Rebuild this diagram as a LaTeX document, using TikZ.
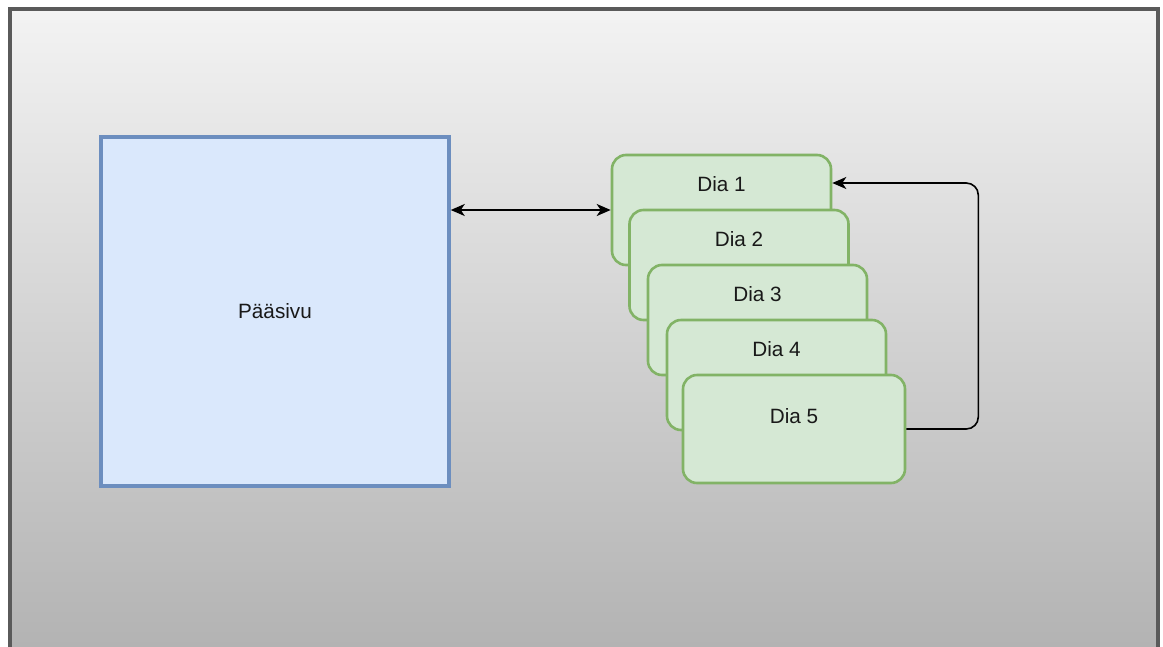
\documentclass[tikz,border=0pt]{standalone}
\usepackage{fontspec}
\setmainfont{Liberation Sans}
\usetikzlibrary{positioning, calc, arrows.meta}
\definecolor{cornice}{HTML}{5A5A5A}
\definecolor{sfondoalto}{HTML}{F3F3F3}
\definecolor{sfondobasso}{HTML}{B3B3B3}
\definecolor{blubordo}{HTML}{6C8EBF}
\definecolor{blufondo}{HTML}{DAE8FC}
\definecolor{verdebordo}{HTML}{82B366}
\definecolor{verdefondo}{HTML}{D5E8D4}
\begin{document}
\begin{tikzpicture}[x=1pt, y=-1pt, font=\fontsize{20.7}{24}\selectfont,
    pagina/.style={draw=blubordo, fill=blufondo, line width=3.5pt, minimum width=348pt, minimum height=349pt, inner sep=0pt},
    dia/.style={draw=verdebordo, fill=verdefondo, line width=2.6pt, rounded corners=14pt, minimum width=219pt, minimum height=110pt, inner sep=0pt},
    dialbl/.style={anchor=center, yshift=-30pt, text=black!90},
    punta/.style={Stealth[length=14pt, width=12pt, inset=4pt]},
    freccia/.style={-{Stealth[length=14pt, width=12pt, inset=4pt]}, line width=1.6pt}]
        \useasboundingbox (0,0) rectangle (1163,646);
        %disegno sfondo
        \shade[top color=sfondoalto, bottom color=sfondobasso] (9,8) rectangle (1158,646);
        \draw[cornice, line width=4pt] (9.5,650) -- (9.5,8.5) -- (1157.5,8.5) -- (1157.5,650);
        %disegno pagina principale
        \node[pagina, text=black!90] (paasivu) at (275,311.5) {Pääsivu};
        %disegno dia
        \node[dia, label={[dialbl]north:Dia 1}] (dia1) at (721.5,210) {};
        \node[dia, label={[dialbl]north:Dia 2}] (dia2) at (739,265) {};
        \node[dia, label={[dialbl]north:Dia 3}] (dia3) at (757.5,320) {};
        \node[dia, label={[dialbl]north:Dia 4}] (dia4) at (776.5,375) {};
        \node[dia, minimum width=222pt, minimum height=108pt, label={[dialbl, yshift=-12pt]north:Dia 5}] (dia5) at (794,429) {};
        %disegno frecce
        \draw[{Stealth[length=14pt, width=12pt, inset=4pt]}-{Stealth[length=14pt, width=12pt, inset=4pt]}, line width=2pt] (paasivu.east |- dia1.west) -- (dia1.west);
        \draw[freccia, rounded corners=12pt] (dia5.east) -- ++(72,0) |- ($(dia1.east)+(0,-27)$);
    \end{tikzpicture}
\end{document}
